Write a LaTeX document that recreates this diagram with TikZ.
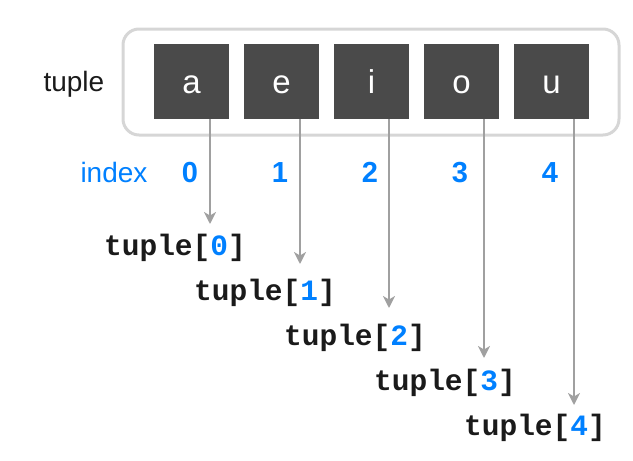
\documentclass[tikz,border=0pt]{standalone}
\usepackage{fontspec}
\setmainfont{Liberation Sans}
\newfontfamily\monob{Liberation Mono}[BoldFont={* Bold}]
\usetikzlibrary{arrows.meta}
\definecolor{idx}{RGB}{0,128,255}
\definecolor{cell}{RGB}{74,74,74}
\definecolor{frame}{RGB}{214,214,214}
\definecolor{arr}{RGB}{160,160,160}
\definecolor{ink}{RGB}{26,26,26}
\begin{document}
\begin{tikzpicture}[x=1pt,y=-1pt,
  cellbox/.style={fill=cell,minimum width=75pt,minimum height=75pt,inner sep=0pt,
     text height=23pt,text depth=0pt,
     text=white,font=\fontsize{33}{33}\selectfont},
  lbl/.style={anchor=base,font=\fontsize{28}{28}\selectfont},
  idxnum/.style={anchor=base,text=idx,font=\fontsize{29}{29}\selectfont\bfseries},
  acc/.style={anchor=base,text=ink,font=\fontsize{29.5}{29.5}\selectfont\monob\bfseries},
  pointer/.style={draw=arr,line width=2pt,-{Stealth[length=12pt,width=12pt,inset=3.5pt]}}]
\useasboundingbox (0,0) rectangle (633,461);
\node[draw=frame,line width=3pt,rounded corners=16pt,minimum width=496pt,minimum height=106pt,inner sep=0pt] (frm) at (371,82) {};
\node[lbl,anchor=base west,text=ink] (tl) at (40,91) {tuple};
\node[lbl,text=idx] (il) at (114,182) {index};
\foreach \i/\ch/\ax/\ty in {0/a/210/224,1/e/300/264,2/i/389/308,3/o/484/358,4/u/574/405}{
  \node[cellbox] (b\i) at ({191.5+90*\i},81.5) {\ch};
  \node[idxnum] (n\i) at ({190+90*\i},182) {\i};
  \node[acc] (t\i) at ({175+90*\i},{255+45*\i}) {tuple[\textcolor{idx}{\i}]};
  \coordinate (tip\i) at (\ax,\ty);
  \draw[pointer] (b\i.south -| tip\i) -- (tip\i);
}
\end{tikzpicture}
\end{document}
